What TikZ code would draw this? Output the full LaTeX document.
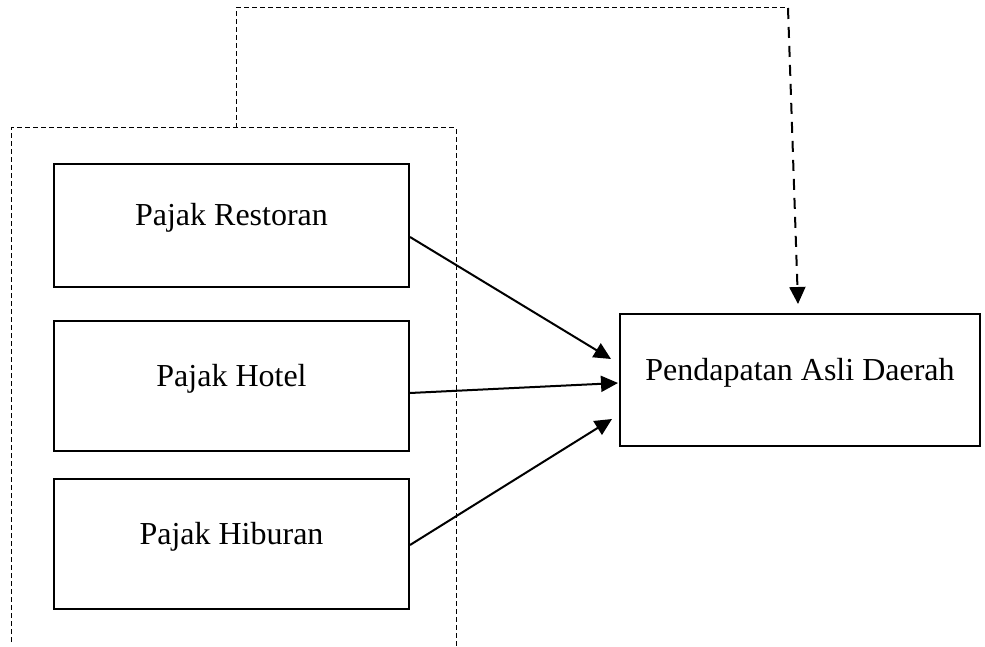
\documentclass[tikz,border=0pt]{standalone}
\usepackage{fontspec}
\setmainfont{Liberation Serif}
\usepackage{tikz}
\usetikzlibrary{arrows.meta}

\tikzset{
  taxbox/.style={draw=black, line width=1pt, minimum width=177.5pt, text height=11pt, text depth=11pt, font=\fontsize{16}{19}\selectfont},
  tip/.style={-{Triangle[length=8.5pt,width=8pt]}, line width=1pt},
  thindash/.style={dash pattern=on 2.5pt off 1.5pt, line width=0.5pt},
  thickdash/.style={dash pattern=on 5.5pt off 4pt, line width=1pt}
}

\begin{document}
\begin{tikzpicture}[x=0.5pt,y=-0.5pt]
\useasboundingbox (0,0) rectangle (985,647);
\node[taxbox, minimum height=61.5pt] (restoran) at (231.5,225.5) {Pajak Restoran};
\node[taxbox, minimum height=65pt] (hotel) at (231.5,386) {Pajak Hotel};
\node[taxbox, minimum height=65pt] (hiburan) at (231.5,544) {Pajak Hiburan};
\node[taxbox, minimum width=180pt, minimum height=66pt] (pad) at (800,380) {Pendapatan Asli Daerah};
% group of variables
\draw[thindash] (11,642) -- (11,128) -- (456,128) -- (456,647);
\coordinate (group) at (236,128);
\coordinate (corner) at (788,8);
\draw[thindash] (group) |- (corner);
\draw[thickdash, tip] (corner) -- ([shift={(-2,-9)}]pad.north);
% partial effects
\draw[tip] ([shift={(0,11.5)}]restoran.east) -- ([shift={(-8,-21)}]pad.west);
\draw[tip] ([shift={(0,7)}]hotel.east) -- ([shift={(-1,3)}]pad.west);
\draw[tip] ([shift={(0,1)}]hiburan.east) -- ([shift={(-7,39)}]pad.west);
\end{tikzpicture}
\end{document}
